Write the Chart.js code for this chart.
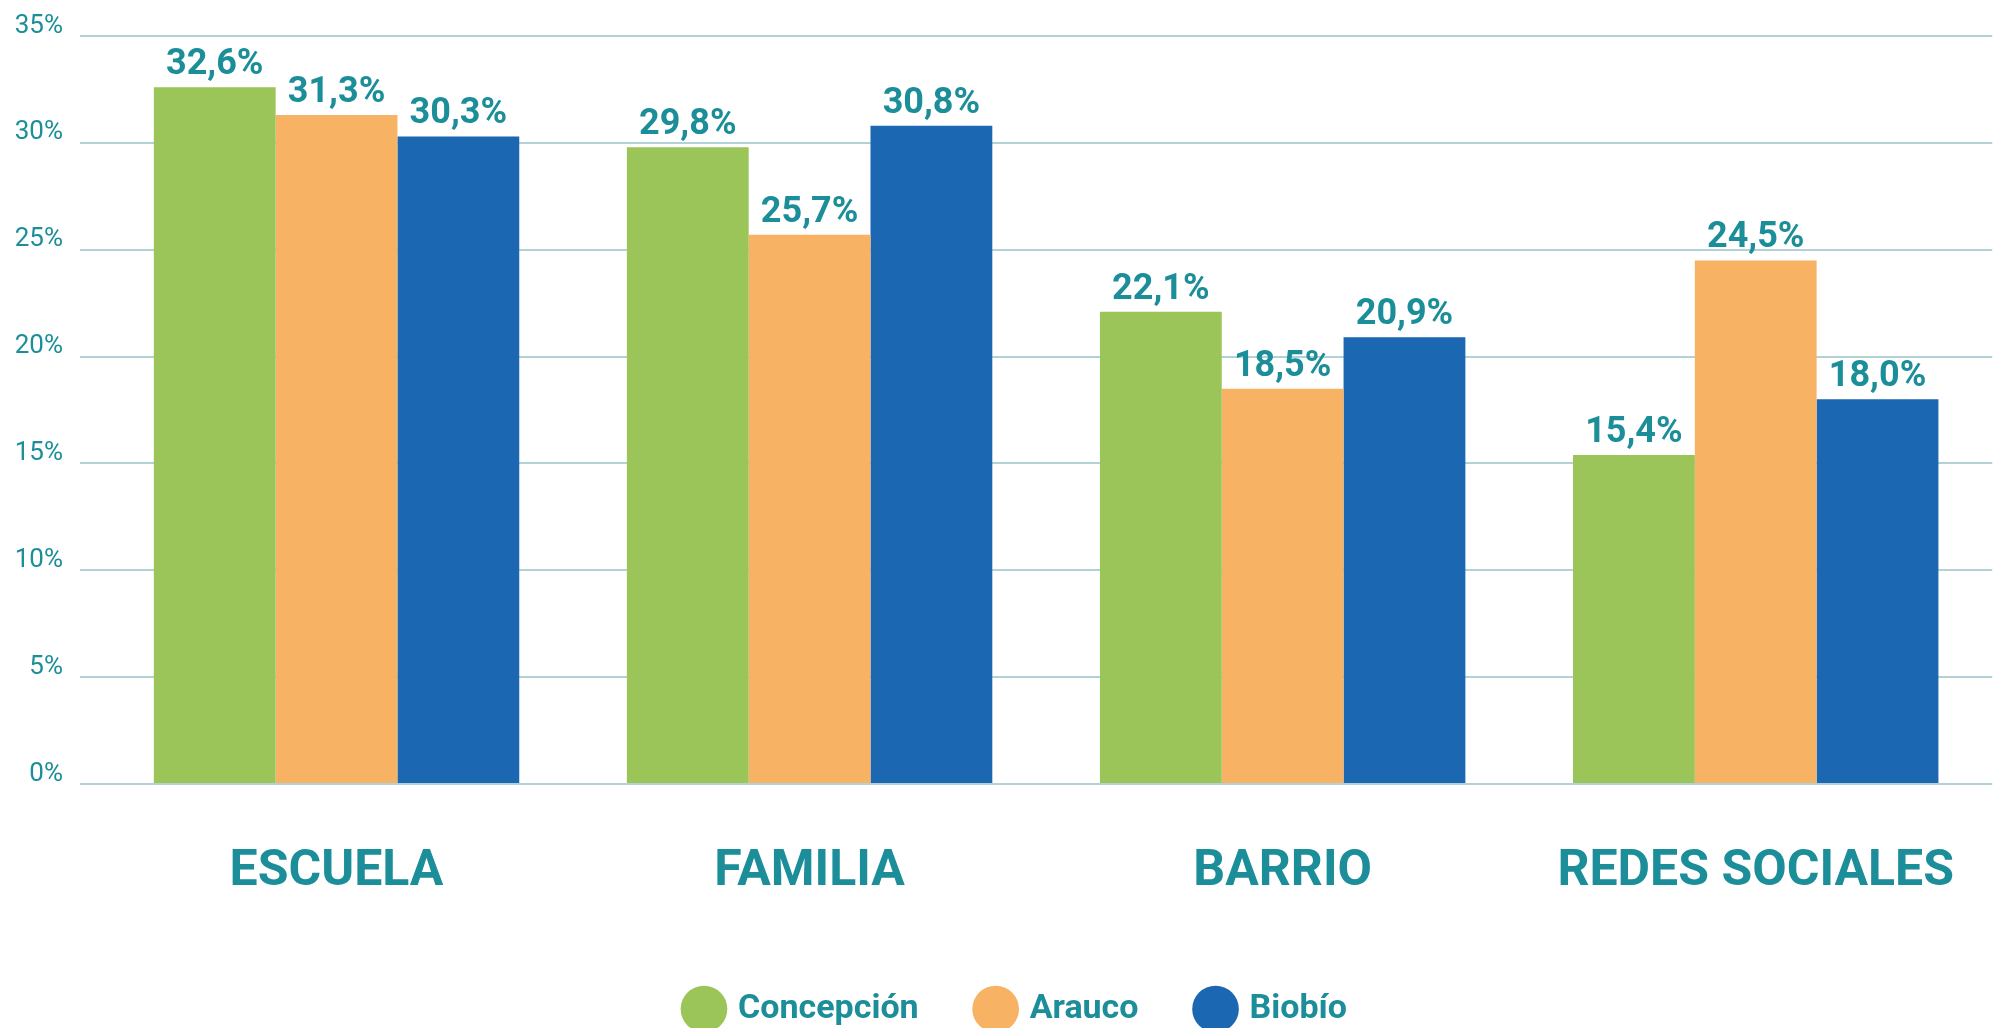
<!DOCTYPE html>
<html>
<head>
<meta charset="utf-8">
<script src="https://cdn.jsdelivr.net/npm/chart.js@4.4.0/dist/chart.umd.min.js"></script>
<style>
  html, body { margin: 0; padding: 0; background: #fff; overflow: hidden; }
</style>
</head>
<body>
<canvas id="grafico" width="2004" height="1028"></canvas>
<script>
// datos del grafico
const categorias = ["ESCUELA", "FAMILIA", "BARRIO", "REDES SOCIALES"];
const concepcion = [32.6, 29.8, 22.1, 15.4];
const arauco = [31.3, 25.7, 18.5, 24.5];
const biobio = [30.3, 30.8, 20.9, 18.0];
const ejeY = { min: 0, max: 35, paso: 5 };

const teal = "#1b8e99";

// etiquetas de valor sobre cada barra
const etiquetasValor = {
  id: "etiquetasValor",
  afterDatasetsDraw(chart) {
    const ctx = chart.ctx;
    ctx.save();
    ctx.font = "bold 36px Roboto";
    ctx.fillStyle = teal;
    ctx.textAlign = "center";
    ctx.textBaseline = "alphabetic";
    chart.data.datasets.forEach((ds, i) => {
      chart.getDatasetMeta(i).data.forEach((bar, j) => {
        const txt = ds.data[j].toFixed(1).replace(".", ",") + "%";
        ctx.fillText(txt, bar.x, bar.y - 13);
      });
    });
    ctx.restore();
  }
};

// la leyenda va un poco corrida a la derecha
const moverLeyenda = {
  id: "moverLeyenda",
  afterLayout(chart) {
    if (chart.legend) chart.legend.left += 30;
  }
};

new Chart(document.getElementById("grafico"), {
  type: "bar",
  data: {
    labels: categorias,
    datasets: [
      { label: "Concepción", data: concepcion, backgroundColor: "#9bc459" },
      { label: "Arauco", data: arauco, backgroundColor: "#f7b263" },
      { label: "Biobío", data: biobio, backgroundColor: "#1b67b2" }
    ]
  },
  options: {
    responsive: false,
    animation: false,
    layout: { padding: { top: 36, left: 0, right: 0, bottom: -8 } },
    datasets: {
      bar: { barPercentage: 1, categoryPercentage: 0.7725, borderWidth: 0 }
    },
    scales: {
      x: {
        grid: { display: false },
        border: { display: false },
        ticks: {
          color: teal,
          font: { family: "Roboto", size: 50, weight: "bold" },
          padding: 50,
          maxRotation: 0
        },
        afterFit(scale) { scale.height = 148; }
      },
      y: {
        min: ejeY.min,
        max: ejeY.max,
        border: { display: false },
        grid: { color: "#b3d2d7", lineWidth: 2, drawTicks: true, tickLength: 20 },
        ticks: {
          stepSize: ejeY.paso,
          color: teal,
          font: { family: "Roboto", size: 26 },
          padding: 17,
          labelOffset: -10,
          callback: (v) => v + "%"
        },
        afterFit(scale) { scale.width = 100; }
      }
    },
    plugins: {
      tooltip: { enabled: false },
      legend: {
        position: "bottom",
        labels: {
          usePointStyle: true,
          pointStyle: "circle",
          boxWidth: 40,
          boxHeight: 33,
          padding: 60,
          color: teal,
          font: { family: "Roboto", size: 34, weight: "bold" }
        }
      }
    }
  },
  plugins: [etiquetasValor, moverLeyenda]
});
</script>
</body>
</html>
